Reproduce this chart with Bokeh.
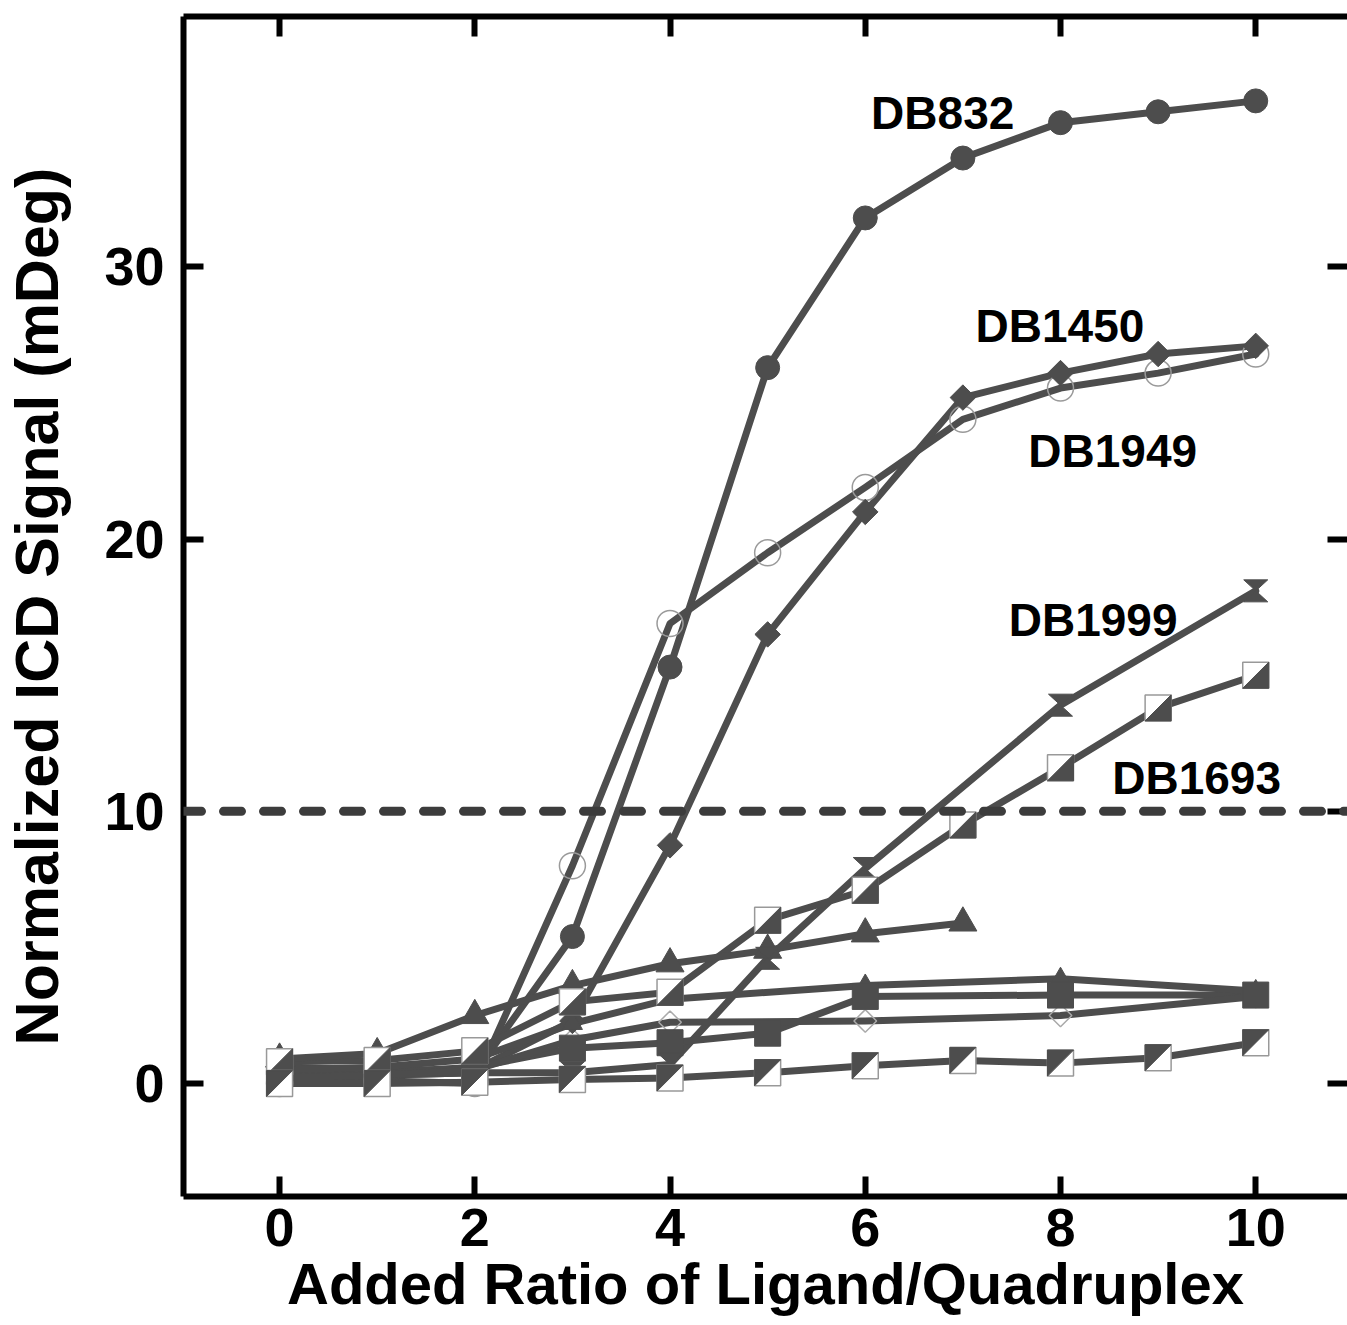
import numpy as np
from bokeh.plotting import figure
from bokeh.models import Range1d, LinearAxis, Span, Label, FixedTicker
from bokeh.embed import file_html
from bokeh.resources import INLINE

# ---------------- data ----------------
x_all = [0, 1, 2, 3, 4, 5, 6, 7, 8, 9, 10]

db832_x = x_all
db832_y = [0.3, 0.3, 0.4, 5.4, 15.3, 26.3, 31.8, 34.0, 35.3, 35.7, 36.1]

db1450_x = x_all
db1450_y = [0.6, 0.5, 0.5, 2.3, 8.75, 16.5, 21.0, 25.2, 26.1, 26.8, 27.1]

db1949_x = x_all
db1949_y = [0.0, 0.1, 0.0, 8.0, 16.9, 19.5, 21.9, 24.4, 25.55, 26.1, 26.8]

db1999_x = [0, 1, 2, 3, 4, 5, 6, 8, 10]
db1999_y = [0.3, 0.3, 0.4, 0.4, 0.7, 4.6, 7.9, 13.9, 18.1]

db1693_x = x_all
db1693_y = [0.8, 0.85, 1.2, 3.0, 3.35, 6.0, 7.1, 9.5, 11.6, 13.8, 15.0]

tri_x = [0, 1, 2, 3, 4, 5, 6, 7]
tri_y = [0.9, 1.1, 2.5, 3.6, 4.4, 4.9, 5.5, 5.9]

sq_x = [0, 1, 2, 3, 4, 5, 6, 8, 10]
sq_y = [0.3, 0.4, 0.6, 1.3, 1.5, 1.85, 3.2, 3.25, 3.25]

smtri_x = [0, 1, 2, 3, 4, 6, 8, 10]
smtri_y = [0.5, 0.6, 0.9, 2.2, 3.1, 3.6, 3.85, 3.4]

odia_x = [0, 1, 2, 3, 4, 6, 8, 10]
odia_y = [0.2, 0.3, 0.5, 1.6, 2.25, 2.3, 2.5, 3.2]

hsq_x = x_all
hsq_y = [0.0, 0.0, 0.05, 0.15, 0.2, 0.4, 0.65, 0.85, 0.75, 0.95, 1.5]

threshold = 10
x_ticks = [0, 2, 4, 6, 8, 10]
y_ticks = [0, 10, 20, 30]

x_title = "Added Ratio of Ligand/Quadruplex"
y_title = "Normalized ICD Signal (mDeg)"

label_texts = ["DB832", "DB1450", "DB1949", "DB1999", "DB1693"]
label_x = [6.06, 7.13, 7.67, 7.47, 8.53]
label_y = [35.66, 27.83, 23.24, 17.02, 11.21]

# ---------------- layout ----------------
X0, X1 = -0.984, 10.94
Y0, Y1 = -4.15, 39.2
FRAME_W, FRAME_H = 1164, 1180
PX_X = FRAME_W / (X1 - X0)
PX_Y = FRAME_H / (Y1 - Y0)

GRAY = "#4d4d4d"
FONT = "Liberation Sans"

p = figure(width=1347, height=1325, output_backend="svg", toolbar_location=None,
           x_range=Range1d(X0, X1), y_range=Range1d(Y0, Y1),
           x_axis_location=None, y_axis_location=None,
           min_border_left=183, min_border_right=0, min_border_top=16,
           min_border_bottom=129)
p.outline_line_color = None
p.xgrid.visible = False
p.ygrid.visible = False
p.background_fill_color = "white"
p.border_fill_color = "white"


def style_axis(ax, ticks, show_labels=True, show_line=True):
    ax.ticker = FixedTicker(ticks=ticks)
    ax.minor_tick_line_color = None
    ax.major_tick_in = 20
    ax.major_tick_out = 0
    ax.major_tick_line_width = 6
    ax.major_tick_line_color = "black"
    ax.axis_line_width = 6
    ax.axis_line_color = "black" if show_line else None
    ax.major_label_text_font = FONT
    ax.major_label_text_font_style = "bold"
    if show_labels:
        ax.major_label_text_color = "black"
        ax.major_label_text_font_size = "54px"
    else:
        ax.major_label_text_color = None
        ax.major_label_text_font_size = "0px"
        ax.major_label_standoff = 0


xb = LinearAxis()
style_axis(xb, x_ticks)
xb.major_label_standoff = 12
xb.axis_label = x_title
xb.axis_label_text_font = FONT
xb.axis_label_text_font_style = "bold"
xb.axis_label_text_font_size = "58px"
xb.axis_label_text_color = "black"
xb.axis_label_standoff = 2
p.add_layout(xb, "below")

yl = LinearAxis()
style_axis(yl, y_ticks)
yl.major_label_standoff = 19
yl.axis_label = y_title
yl.axis_label_text_font = FONT
yl.axis_label_text_font_style = "bold"
yl.axis_label_text_font_size = "61px"
yl.axis_label_text_color = "black"
yl.axis_label_standoff = 30
p.add_layout(yl, "left")

xt = LinearAxis()
style_axis(xt, x_ticks, show_labels=False)
p.add_layout(xt, "above")

yr = LinearAxis()
style_axis(yr, y_ticks, show_labels=False, show_line=False)
p.add_layout(yr, "right")

# threshold dashed line
p.add_layout(Span(location=threshold, dimension="width", line_color="#3c3c3c",
                  line_width=9, line_dash="18 22", line_cap="round"))

# ---------------- lines ----------------
series = [(db832_x, db832_y), (db1450_x, db1450_y), (db1949_x, db1949_y),
          (db1999_x, db1999_y), (db1693_x, db1693_y), (tri_x, tri_y),
          (sq_x, sq_y), (smtri_x, smtri_y), (odia_x, odia_y), (hsq_x, hsq_y)]
for sx, sy in series:
    p.line(sx, sy, line_color=GRAY, line_width=7, line_join="round", line_cap="round")

# ---------------- markers ----------------
p.scatter(db1949_x, db1949_y, marker="circle", size=26, fill_color=None,
          line_color="#9a9a9a", line_width=1.5)
p.scatter(odia_x, odia_y, marker="square", angle=np.pi / 4, size=16, fill_color=None,
          line_color="#aaaaaa", line_width=1.5)

p.scatter(db832_x, db832_y, marker="circle", size=24, fill_color=GRAY, line_color=GRAY)
p.scatter(db1450_x, db1450_y, marker="square", angle=np.pi / 4, size=18,
          fill_color=GRAY, line_color=GRAY)
p.scatter(tri_x, tri_y, marker="triangle", size=28, fill_color=GRAY, line_color=GRAY)
p.scatter(smtri_x, smtri_y, marker="triangle", size=20, fill_color=GRAY, line_color=GRAY)
p.scatter(sq_x, sq_y, marker="square", size=26, fill_color=GRAY, line_color=GRAY)

# hourglass markers for DB1999
hx = 12 / PX_X
hy = 11 / PX_Y
hg_xs, hg_ys = [], []
for cx, cy in zip(db1999_x, db1999_y):
    hg_xs.append([cx - hx, cx + hx, cx])
    hg_ys.append([cy + hy, cy + hy, cy])
    hg_xs.append([cx - hx, cx + hx, cx])
    hg_ys.append([cy - hy, cy - hy, cy])
p.patches(hg_xs, hg_ys, fill_color=GRAY, line_color=GRAY, line_width=1)

# half-filled squares
sx_h = 13 / PX_X
sy_h = 13 / PX_Y


def half_squares(xs, ys, lower_right):
    sq_xs, sq_ys, tr_xs, tr_ys = [], [], [], []
    for cx, cy in zip(xs, ys):
        sq_xs.append([cx - sx_h, cx + sx_h, cx + sx_h, cx - sx_h])
        sq_ys.append([cy - sy_h, cy - sy_h, cy + sy_h, cy + sy_h])
        if lower_right:
            tr_xs.append([cx + sx_h, cx + sx_h, cx - sx_h])
            tr_ys.append([cy + sy_h, cy - sy_h, cy - sy_h])
        else:
            tr_xs.append([cx - sx_h, cx - sx_h, cx + sx_h])
            tr_ys.append([cy - sy_h, cy + sy_h, cy + sy_h])
    p.patches(sq_xs, sq_ys, fill_color="white", line_color="#999999", line_width=1.5)
    p.patches(tr_xs, tr_ys, fill_color=GRAY, line_color=GRAY, line_width=1)


half_squares(db1693_x, db1693_y, True)
half_squares(hsq_x, hsq_y, False)

# ---------------- labels ----------------
for t, lx, ly in zip(label_texts, label_x, label_y):
    p.add_layout(Label(x=lx, y=ly, text=t, text_font=FONT, text_font_style="bold",
                       text_font_size="46px", text_color="black",
                       text_baseline="alphabetic", text_align="left"))

open("out.html", "w").write(file_html(p, INLINE))
